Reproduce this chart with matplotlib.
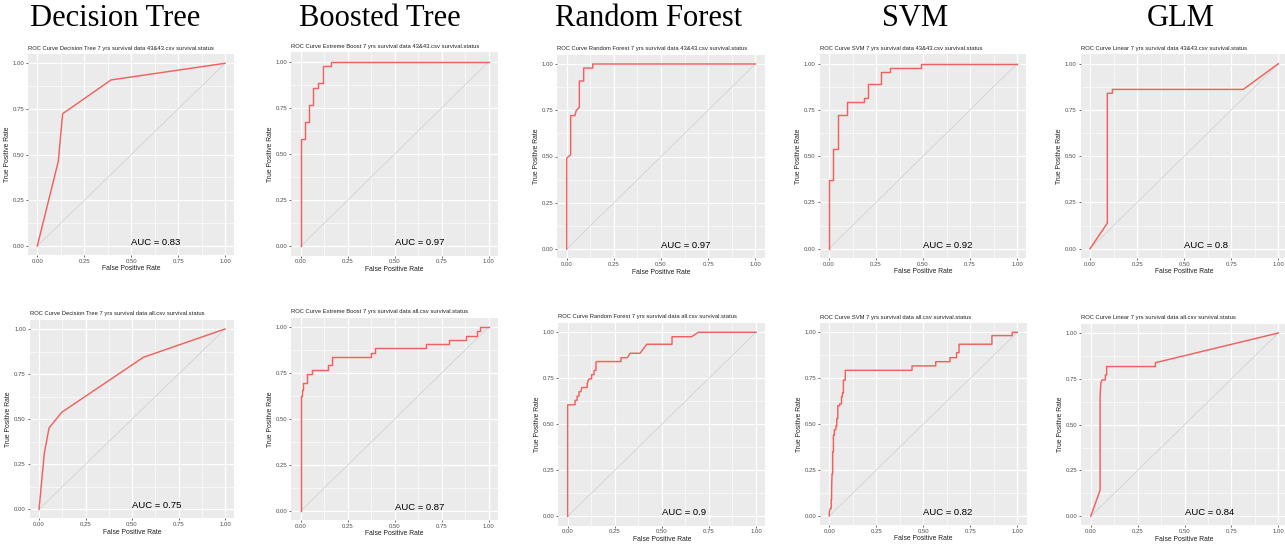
import matplotlib
matplotlib.use('Agg')
import matplotlib.pyplot as plt
from matplotlib.ticker import FixedLocator

plt.rcParams['font.family'] = ['Liberation Sans', 'DejaVu Sans']

# ---------------- data ----------------
headers = ["Decision Tree", "Boosted Tree", "Random Forest", "SVM", "GLM"]

titles_top = [
    "ROC Curve Decision Tree 7 yrs survival data 43&43.csv survival.status",
    "ROC Curve Extreme Boost 7 yrs survival data 43&43.csv survival.status",
    "ROC Curve Random Forest 7 yrs survival data 43&43.csv survival.status",
    "ROC Curve SVM 7 yrs survival data 43&43.csv survival.status",
    "ROC Curve Linear 7 yrs survival data 43&43.csv survival.status",
]
titles_bottom = [
    "ROC Curve Decision Tree 7 yrs survival data all.csv survival.status",
    "ROC Curve Extreme Boost 7 yrs survival data all.csv survival.status",
    "ROC Curve Random Forest 7 yrs survival data all.csv survival.status",
    "ROC Curve SVM 7 yrs survival data all.csv survival.status",
    "ROC Curve Linear 7 yrs survival data all.csv survival.status",
]
auc_top = ["AUC = 0.83", "AUC = 0.97", "AUC = 0.97", "AUC = 0.92", "AUC = 0.8"]
auc_bottom = ["AUC = 0.75", "AUC = 0.87", "AUC = 0.9", "AUC = 0.82", "AUC = 0.84"]

# Decision tree, 43&43
dt_top_fpr = [0.0, 0.112, 0.135, 0.393, 1.0]
dt_top_tpr = [0.0, 0.464, 0.724, 0.909, 1.0]
# Boosted tree, 43&43
xgb_top_fpr = [0.0, 0.0, 0.023, 0.023, 0.046, 0.046, 0.067, 0.067, 0.094, 0.094,
               0.117, 0.117, 0.163, 0.163, 1.0]
xgb_top_tpr = [0.0, 0.58, 0.58, 0.674, 0.674, 0.766, 0.766, 0.86, 0.86, 0.883,
               0.883, 0.977, 0.977, 1.0, 1.0]
# Random forest, 43&43
rf_top_fpr = [0.0, 0.0, 0.021, 0.021, 0.044, 0.05, 0.067, 0.067, 0.09, 0.09,
              0.138, 0.138, 1.0]
rf_top_tpr = [0.0, 0.491, 0.51, 0.721, 0.721, 0.748, 0.766, 0.908, 0.908, 0.978,
              0.978, 1.0, 1.0]
# SVM, 43&43
svm_top_fpr = [0.0, 0.0, 0.023, 0.023, 0.046, 0.046, 0.094, 0.094, 0.186, 0.186,
               0.209, 0.209, 0.278, 0.278, 0.324, 0.324, 0.491, 0.491, 1.0]
svm_top_tpr = [0.0, 0.372, 0.372, 0.537, 0.537, 0.723, 0.723, 0.795, 0.795, 0.817,
               0.817, 0.888, 0.888, 0.953, 0.953, 0.978, 0.978, 1.0, 1.0]
# GLM, 43&43
glm_top_fpr = [0.0, 0.092, 0.092, 0.119, 0.119, 0.814, 1.0]
glm_top_tpr = [0.0, 0.138, 0.84, 0.84, 0.861, 0.861, 1.0]

# Decision tree, all
dt_bot_fpr = [0.0, 0.029, 0.054, 0.122, 0.561, 1.0]
dt_bot_tpr = [0.0, 0.313, 0.451, 0.538, 0.843, 1.0]
# Boosted tree, all
xgb_bot_fpr = [0.0, 0.0, 0.009, 0.009, 0.014, 0.014, 0.032, 0.032, 0.062, 0.062,
               0.144, 0.144, 0.167, 0.167, 0.372, 0.372, 0.395, 0.395, 0.665, 0.665,
               0.791, 0.791, 0.879, 0.879, 0.94, 0.94, 0.954, 0.954, 1.0]
xgb_bot_tpr = [0.0, 0.626, 0.626, 0.655, 0.655, 0.698, 0.698, 0.745, 0.745, 0.767,
               0.767, 0.792, 0.792, 0.838, 0.838, 0.861, 0.861, 0.884, 0.884, 0.908,
               0.908, 0.929, 0.929, 0.953, 0.953, 0.976, 0.976, 1.0, 1.0]
# Random forest, all
rf_bot_fpr = [0.0, 0.0, 0.039, 0.039, 0.05, 0.05, 0.06, 0.06, 0.07, 0.075, 0.104,
              0.104, 0.113, 0.127, 0.127, 0.14, 0.14, 0.15, 0.15, 0.154, 0.283,
              0.283, 0.317, 0.331, 0.384, 0.42, 0.554, 0.554, 0.658, 0.694, 1.0]
rf_bot_tpr = [0.0, 0.606, 0.606, 0.63, 0.63, 0.653, 0.653, 0.677, 0.677, 0.70, 0.70,
              0.724, 0.747, 0.747, 0.77, 0.77, 0.793, 0.793, 0.838, 0.841, 0.841,
              0.862, 0.862, 0.886, 0.886, 0.935, 0.935, 0.976, 0.976, 1.0, 1.0]
# SVM, all
svm_bot_fpr = [0.0, 0.0, 0.005, 0.01, 0.01, 0.012, 0.013, 0.015, 0.018, 0.018,
               0.022, 0.022, 0.027, 0.027, 0.035, 0.035, 0.04, 0.04, 0.045, 0.045,
               0.055, 0.055, 0.065, 0.065, 0.07, 0.07, 0.075, 0.075, 0.085, 0.085,
               0.44, 0.44, 0.566, 0.566, 0.642, 0.642, 0.677, 0.677, 0.69, 0.69,
               0.865, 0.865, 0.973, 0.973, 1.0]
svm_bot_tpr = [0.0, 0.02, 0.04, 0.04, 0.09, 0.09, 0.18, 0.23, 0.23, 0.35, 0.35,
               0.44, 0.44, 0.47, 0.47, 0.49, 0.49, 0.53, 0.53, 0.60, 0.60, 0.61,
               0.61, 0.65, 0.65, 0.67, 0.67, 0.74, 0.74, 0.793, 0.793, 0.817,
               0.817, 0.84, 0.84, 0.862, 0.862, 0.889, 0.889, 0.935, 0.935, 0.982,
               0.982, 1.0, 1.0]
# GLM, all
glm_bot_fpr = [0.0, 0.05, 0.05, 0.054, 0.06, 0.078, 0.078, 0.085, 0.085, 0.345,
               0.345, 1.0]
glm_bot_tpr = [0.0, 0.142, 0.653, 0.726, 0.744, 0.744, 0.771, 0.771, 0.817, 0.817,
               0.838, 1.0]

top_curves = [(dt_top_fpr, dt_top_tpr), (xgb_top_fpr, xgb_top_tpr),
              (rf_top_fpr, rf_top_tpr), (svm_top_fpr, svm_top_tpr),
              (glm_top_fpr, glm_top_tpr)]
bot_curves = [(dt_bot_fpr, dt_bot_tpr), (xgb_bot_fpr, xgb_bot_tpr),
              (rf_bot_fpr, rf_bot_tpr), (svm_bot_fpr, svm_bot_tpr),
              (glm_bot_fpr, glm_bot_tpr)]

major_ticks = [0.0, 0.25, 0.5, 0.75, 1.0]
tick_labels = ["0.00", "0.25", "0.50", "0.75", "1.00"]
minor_ticks = [0.125, 0.375, 0.625, 0.875]

# ---------------- layout (pixels) ----------------
W, H = 1285, 544
fig = plt.figure(figsize=(W / 100, H / 100), dpi=100)
fig.patch.set_facecolor('white')

# (x of data 0, x of data 1, y of data 1, y of data 0)
top_pos = [(37.3, 225.0, 63.3, 246.0), (300.7, 488.7, 61.7, 246.3),
           (566.7, 755.3, 64.0, 249.0), (829.0, 1017.0, 63.7, 248.7),
           (1090.0, 1278.3, 63.7, 248.7)]
bot_pos = [(39.0, 225.0, 329.0, 509.3), (300.7, 488.7, 327.0, 511.0),
           (567.7, 756.0, 332.3, 516.3), (829.3, 1017.3, 332.3, 516.0),
           (1090.7, 1278.3, 333.0, 516.3)]

header_x = [115, 380, 649, 915, 1181]

RED = '#F0625F'
BG = '#EBEBEB'
GRID = 'white'
TXT = '#4D4D4D'


def make_panel(pos, curve, title, auc):
    x0, x1, y1, y0 = pos
    dx = x1 - x0
    dy = y0 - y1
    left = (x0 - 0.05 * dx) / W
    width = 1.1 * dx / W
    bottom = (H - (y0 + 0.05 * dy)) / H
    height = 1.1 * dy / H
    ax = fig.add_axes([left, bottom, width, height])
    ax.set_facecolor(BG)
    ax.set_xlim(-0.05, 1.05)
    ax.set_ylim(-0.05, 1.05)
    for s in ax.spines.values():
        s.set_visible(False)
    ax.xaxis.set_major_locator(FixedLocator(major_ticks))
    ax.yaxis.set_major_locator(FixedLocator(major_ticks))
    ax.set_xticks(minor_ticks, minor=True)
    ax.set_yticks(minor_ticks, minor=True)
    ax.set_xticklabels(tick_labels)
    ax.set_yticklabels(tick_labels)
    ax.grid(True, which='major', color=GRID, linewidth=0.9)
    ax.grid(True, which='minor', color=GRID, linewidth=0.45)
    ax.set_axisbelow(True)
    ax.tick_params(which='major', length=1.6, width=0.5, color='#333333',
                   labelsize=4.3, labelcolor=TXT, pad=1.2)
    ax.tick_params(which='minor', length=0)
    ax.set_xlabel("False Positive Rate", fontsize=4.9, color='#222222', labelpad=1.0)
    ax.set_ylabel("True Positive Rate", fontsize=4.9, color='#222222', labelpad=1.2)
    ax.plot([0, 1], [0, 1], color='#D0D0D0', linewidth=0.55, zorder=2)
    ax.plot(curve[0], curve[1], color=RED, linewidth=1.05, zorder=3)
    ax.text(0.5, 0.02, auc, ha='left', va='center', fontsize=6.8, color='black', zorder=4)
    ax.annotate(title, xy=(0, 1), xycoords='axes fraction', xytext=(0, 2.6),
                textcoords='offset points', ha='left', va='bottom', fontsize=4.2,
                color='#222222')
    return ax


for i in range(5):
    make_panel(top_pos[i], top_curves[i], titles_top[i], auc_top[i])
    make_panel(bot_pos[i], bot_curves[i], titles_bottom[i], auc_bottom[i])

for hx, h in zip(header_x, headers):
    fig.text(hx / W, 1 - 19 / H, h, ha='center', va='center', fontsize=22,
             family='Liberation Serif', color='black')

fig.savefig('out.png', dpi=100)
